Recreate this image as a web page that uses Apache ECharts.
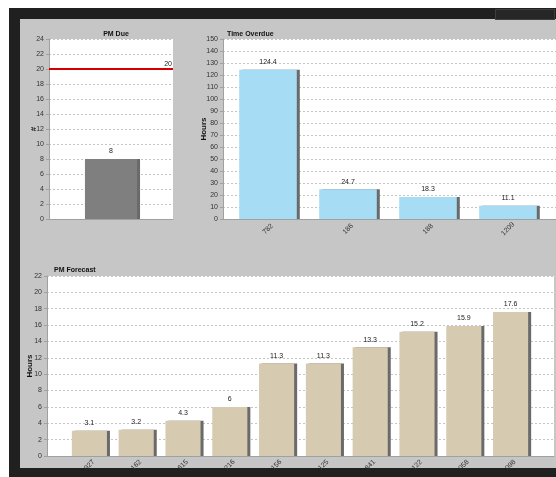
<!DOCTYPE html>
<html>
<head>
<meta charset="utf-8">
<script src="https://cdn.jsdelivr.net/npm/echarts@6/dist/echarts.min.js"></script>
<style>
  html, body { margin: 0; padding: 0; background: #ffffff; }
  #dark { position: absolute; left: 9px; top: 8px; width: 547px; height: 469px; background: #202020; }
  #grey { position: absolute; left: 20px; top: 19px; width: 536px; height: 449px; background: #c6c6c6; }
  #btn { position: absolute; left: 495px; top: 9px; width: 58px; height: 9px; border: 1px solid #3e3e3e; background: #262626; }
  #chart { position: absolute; left: 0; top: 0; width: 556px; height: 477px; }
</style>
</head>
<body>
<div id="dark"></div>
<div id="grey"></div>
<div id="btn"></div>
<div id="chart"></div>
<script>
// ---- data ----
var pmDueCats = [''];
var pmDueValues = [8];
var pmDueTarget = 20;

var overdueCats = ['782', '186', '188', '1209'];
var overdueValues = [124.4, 24.7, 18.3, 11.1];

var forecastCats = ['927', '162', '615', '216', '156', '125', '841', '122', '058', '098'];
var forecastValues = [3.1, 3.2, 4.3, 6, 11.3, 11.3, 13.3, 15.2, 15.9, 17.6];

// ---- styles ----
var FONT = 'Liberation Sans';
var split = { show: true, lineStyle: { color: '#c4c4c4', type: [2, 2], width: 1 } };
var axisLineGrey = { show: true, lineStyle: { color: '#a0a0a0', width: 1 } };
var tickLbl = { fontSize: 7, color: '#333', fontFamily: FONT, margin: 5 };
var tickSmall = { show: true, length: 3, lineStyle: { color: '#a0a0a0' } };
var nameStyle = { fontSize: 8, fontWeight: 'bold', color: '#111', fontFamily: FONT };
var barLabel = { show: true, position: 'top', distance: 4, fontSize: 7, color: '#222', fontFamily: FONT };
function shadowStyle(color) {
  return { color: color, shadowColor: '#6a6a6a', shadowBlur: 0, shadowOffsetX: 3, shadowOffsetY: 0 };
}
var catLabel = { rotate: 45, align: 'center', verticalAlign: 'middle', fontSize: 7, color: '#333', fontFamily: FONT, interval: 0 };

var chart = echarts.init(document.getElementById('chart'), null, { renderer: 'canvas' });

var option = {
  animation: false,
  backgroundColor: 'transparent',
  textStyle: { fontFamily: FONT },
  title: [
    { text: 'PM Due', left: 111, top: 26, textAlign: 'center', textStyle: { fontSize: 7, fontWeight: 'bold', color: '#111', fontFamily: FONT } },
    { text: 'Time Overdue', left: 222, top: 26, textStyle: { fontSize: 7, fontWeight: 'bold', color: '#111', fontFamily: FONT } },
    { text: 'PM Forecast', left: 49, top: 262, textStyle: { fontSize: 7, fontWeight: 'bold', color: '#111', fontFamily: FONT } }
  ],
  grid: [
    { left: 49, top: 39, width: 124, height: 180, show: true, backgroundColor: '#ffffff', borderWidth: 0 },
    { left: 223, top: 39, width: 333, height: 180, show: true, backgroundColor: '#ffffff', borderWidth: 0 },
    { left: 228, top: 39, width: 320, height: 180 },
    { left: 47, top: 276, width: 507, height: 180, show: true, backgroundColor: '#ffffff', borderWidth: 0 },
    { left: 66, top: 276, width: 468, height: 180 }
  ],
  xAxis: [
    { gridIndex: 0, type: 'category', data: pmDueCats, axisLine: axisLineGrey, axisTick: { show: false }, axisLabel: { show: false } },
    { gridIndex: 1, type: 'value', min: 0, max: 1, axisLine: axisLineGrey, axisTick: { show: false }, axisLabel: { show: false }, splitLine: { show: false } },
    { gridIndex: 2, type: 'category', data: overdueCats, axisLine: { show: false }, axisTick: { show: false }, axisLabel: Object.assign({ margin: 10 }, catLabel) },
    { gridIndex: 3, type: 'value', min: 0, max: 1, axisLine: axisLineGrey, axisTick: { show: false }, axisLabel: { show: false }, splitLine: { show: false } },
    { gridIndex: 4, type: 'category', data: forecastCats, axisLine: { show: false }, axisTick: { show: false }, axisLabel: Object.assign({ margin: 9 }, catLabel) }
  ],
  yAxis: [
    { gridIndex: 0, type: 'value', min: 0, max: 24, interval: 2, axisLine: axisLineGrey, axisTick: tickSmall, axisLabel: tickLbl, splitLine: split,
      name: '#', nameLocation: 'middle', nameGap: 11, nameMoveOverlap: false, nameTextStyle: nameStyle },
    { gridIndex: 1, type: 'value', min: 0, max: 150, interval: 10, axisLine: axisLineGrey, axisTick: tickSmall, axisLabel: tickLbl, splitLine: split,
      name: 'Hours', nameLocation: 'middle', nameGap: 15, nameMoveOverlap: false, nameTextStyle: nameStyle },
    { gridIndex: 2, type: 'value', min: 0, max: 150, interval: 10, show: false, splitLine: { show: false } },
    { gridIndex: 3, type: 'value', min: 0, max: 22, interval: 2, axisLine: axisLineGrey, axisTick: tickSmall, axisLabel: tickLbl, splitLine: split,
      name: 'Hours', nameLocation: 'middle', nameGap: 13, nameMoveOverlap: false, nameTextStyle: nameStyle },
    { gridIndex: 4, type: 'value', min: 0, max: 22, interval: 2, show: false, splitLine: { show: false } }
  ],
  series: [
    {
      type: 'bar', xAxisIndex: 0, yAxisIndex: 0, data: pmDueValues, barWidth: '42%',
      itemStyle: shadowStyle('#7f7f7f'), label: barLabel,
      markLine: {
        silent: true, symbol: 'none',
        lineStyle: { color: '#d40000', width: 2, type: 'solid' },
        label: { show: true, position: 'insideEndTop', formatter: String(pmDueTarget), fontSize: 7, color: '#222', fontFamily: FONT, distance: 1 },
        data: [{ yAxis: pmDueTarget }]
      }
    },
    {
      type: 'bar', xAxisIndex: 2, yAxisIndex: 2, data: overdueValues, barWidth: '72%',
      itemStyle: shadowStyle('#a6dcf4'), label: barLabel
    },
    {
      type: 'bar', xAxisIndex: 4, yAxisIndex: 4, data: forecastValues, barWidth: '75%',
      itemStyle: shadowStyle('#d6cab0'), label: barLabel
    }
  ]
};
chart.setOption(option);
</script>
</body>
</html>
